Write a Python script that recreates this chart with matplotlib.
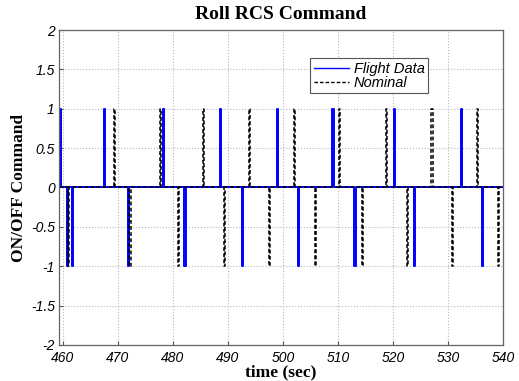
import matplotlib
matplotlib.use("Agg")
import matplotlib.pyplot as plt
from matplotlib.font_manager import FontProperties

# Pulse data
flight_times = [459.5, 460.7, 461.7, 467.5, 471.8, 478.2, 482.1, 488.5, 492.5, 498.9,
                502.8, 509.0, 513.0, 520.2, 523.8, 532.3, 536.1]
flight_values = [1, -1, -1, 1, -1, 1, -1, 1, -1, 1, -1, 1, -1, 1, -1, 1, -1]
nominal_times = [461.0, 469.3, 472.1, 477.7, 481.0, 485.4, 489.3, 493.8, 497.5, 502.0,
                 505.8, 510.2, 514.3, 518.7, 522.5, 527.0, 530.8, 535.2, 539.1]
nominal_values = [-1, 1, -1, 1, -1, 1, -1, 1, -1, 1, -1, 1, -1, 1, -1, 1, -1, 1, -1]
pulse_width = 0.2
t_start, t_end = 459.3, 540.0

x_ticks = [460, 470, 480, 490, 500, 510, 520, 530, 540]
y_ticks = [-2, -1.5, -1, -0.5, 0, 0.5, 1, 1.5, 2]
y_labels = ["-2", "-1.5", "-1", "-0.5", "0", "0.5", "1", "1.5", "2"]


def step_series(times, values):
    xs, ys = [t_start], [0]
    for t, v in zip(times, values):
        xs += [t, t, t + pulse_width, t + pulse_width]
        ys += [0, v, v, 0]
    xs.append(t_end)
    ys.append(0)
    return xs, ys


fig = plt.figure(figsize=(5.19, 3.81), dpi=100)
ax = fig.add_axes([59/519, 1 - 345/381, 444/519, 315/381])

fx, fy = step_series(flight_times, flight_values)
nx, ny = step_series(nominal_times, nominal_values)
ax.plot(fx, fy, color="#0000ff", lw=1.4, label="Flight Data")
ax.plot(nx, ny, color="black", lw=1.1, ls=(0, (2.5, 1.5)), label="Nominal")

ax.set_xlim(t_start, t_end)
ax.set_ylim(-2, 2)
ax.set_xticks(x_ticks)
ax.set_yticks(y_ticks)
ax.set_yticklabels(y_labels)
tick_fp = FontProperties(family="Liberation Sans", style="italic", size=10)
for lab in ax.get_xticklabels() + ax.get_yticklabels():
    lab.set_fontproperties(tick_fp)
ax.tick_params(direction="in", length=3, color="#555555")
ax.tick_params(axis="x", pad=4)
ax.tick_params(axis="y", pad=3)
ax.grid(True, color="#b8b8b8", ls=":", lw=0.8)
for s in ax.spines.values():
    s.set_color("#666666")
    s.set_linewidth(0.9)

ax.set_title("Roll RCS Command", family="Liberation Serif", weight="bold", size=14, pad=8)
ax.set_xlabel("time (sec)", family="Liberation Serif", weight="bold", size=12.5, labelpad=0)
ax.set_ylabel("ON/OFF Command", family="Liberation Serif", weight="bold", size=12.5, labelpad=3)

leg = ax.legend(loc="upper left", bbox_to_anchor=(0.565, 0.911), borderaxespad=0,
                fancybox=False, framealpha=1, edgecolor="#555555",
                prop=dict(family="Liberation Sans", style="italic", size=10.5),
                handlelength=2.4, borderpad=0.25, labelspacing=0.0, handletextpad=0.35)
leg.get_frame().set_linewidth(0.8)
for line in leg.get_lines():
    line.set_linewidth(1.0)

fig.savefig("out.png", dpi=100)
